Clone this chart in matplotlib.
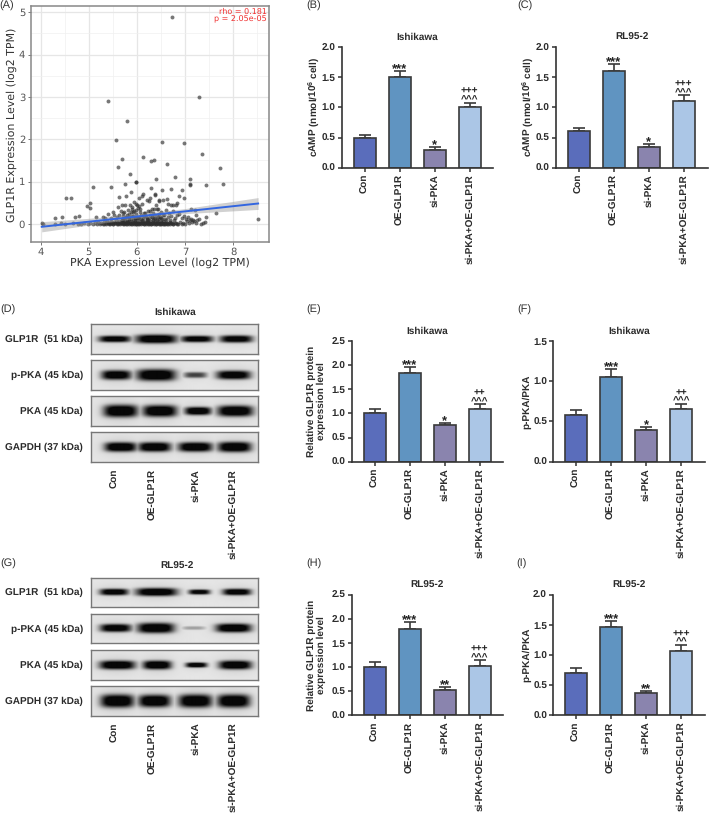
import numpy as np
from matplotlib import pyplot as plt

W, H = 709, 814
plt.rcParams['font.family'] = ['Liberation Sans', 'DejaVu Sans']
plt.rcParams['mathtext.fontset'] = 'custom'
plt.rcParams['mathtext.bf'] = 'Liberation Sans:bold'
plt.rcParams['mathtext.rm'] = 'Liberation Sans'
plt.rcParams['text.hinting'] = 'none'
plt.rcParams['text.hinting_factor'] = 1

# scatter panel A
high_x = [6.72, 7.3, 5.4, 5.8, 5.56, 6.52, 6.98, 7.36, 5.68, 6.12, 6.3, 6.36, 6.63, 5.6, 7.72, 5.86, 6.79, 6.4, 7.1,
          5.97, 5.99, 5.76, 7.1, 7.1, 7.43, 7.78, 5.47, 5.08, 6.3, 6.7, 6.52, 6.93, 5.88, 6.13, 6.38, 6.38, 5.78,
          5.63, 6.05, 6.1, 6.88, 6.98, 4.52, 4.62, 6.2, 6.28, 6.46, 6.46, 6.55, 6.62, 6.25, 5.93, 5.97, 5.03, 4.97,
          5.02, 5.75, 5.85, 5.68, 5.6, 5.9, 6.0, 6.05, 6.1, 6.4, 6.64, 6.7, 6.75, 6.82, 6.84, 6.32, 6.36, 6.42,
          7.12, 7.2, 5.4, 5.5, 4.8, 4.72, 4.3, 4.45, 7.65, 7.43, 8.52]
high_y = [4.89, 2.99, 2.9, 2.42, 1.98, 1.93, 1.9, 1.65, 1.53, 1.58, 1.48, 1.52, 1.41, 1.35, 1.32, 1.17, 1.11, 1.07, 1.05,
          0.98, 0.99, 0.93, 0.92, 0.93, 0.92, 0.94, 0.88, 0.86, 0.85, 0.82, 0.8, 0.79, 0.76, 0.7, 0.7, 0.68, 0.65,
          0.64, 0.62, 0.65, 0.65, 0.6, 0.61, 0.61, 0.57, 0.6, 0.57, 0.55, 0.57, 0.58, 0.54, 0.52, 0.47, 0.49, 0.42,
          0.38, 0.45, 0.44, 0.44, 0.4, 0.4, 0.45, 0.42, 0.47, 0.45, 0.46, 0.45, 0.45, 0.45, 0.5, 0.36, 0.34, 0.36,
          0.34, 0.32, 0.24, 0.27, 0.19, 0.15, 0.14, 0.16, 0.26, 0.16, 0.11]
mid_x = [5.15, 5.3, 5.33, 5.45, 5.52, 5.58, 5.63, 5.66, 5.7, 5.72, 5.76, 5.8, 5.82, 5.84, 5.87, 5.9, 5.92, 5.94, 5.96,
         5.99, 6.02, 6.04, 6.07, 6.09, 6.12, 6.15, 6.18, 6.21, 6.24, 6.27, 6.31, 6.34, 6.37, 6.41, 6.44, 6.47, 6.5,
         6.53, 6.57, 6.6, 6.64, 6.67, 6.71, 6.76, 6.8, 6.84, 6.88, 6.93, 6.97, 7.02, 7.06, 7.12, 7.17, 7.22, 7.3]
mid_y = [0.17, 0.16, 0.13, 0.13, 0.2, 0.15, 0.22, 0.31, 0.18, 0.25, 0.13, 0.21, 0.33, 0.16, 0.27, 0.36, 0.19, 0.3, 0.14,
         0.24, 0.38, 0.17, 0.29, 0.2, 0.13, 0.26, 0.18, 0.14, 0.3, 0.2, 0.15, 0.25, 0.13, 0.22, 0.35, 0.17, 0.28,
         0.12, 0.21, 0.33, 0.15, 0.26, 0.18, 0.3, 0.13, 0.2, 0.24, 0.14, 0.19, 0.11, 0.16, 0.12, 0.09, 0.2, 0.11]
low_x = [4.02, 4.05, 4.3, 4.42, 4.5, 4.68, 4.78, 4.84, 4.9, 4.98, 5.03, 5.08, 5.12, 5.17, 5.2, 5.23, 5.26, 5.29, 5.32,
         5.35, 5.37, 5.4, 5.42, 5.44, 5.46, 5.48, 5.5, 5.52, 5.54, 5.56, 5.58, 5.6, 5.62, 5.64, 5.66, 5.68, 5.7, 5.72,
         5.74, 5.76, 5.78, 5.8, 5.82, 5.84, 5.86, 5.88, 5.9, 5.92, 5.94, 5.96, 5.98, 6.0, 6.02, 6.04, 6.06, 6.08, 6.1,
         6.12, 6.14, 6.16, 6.18, 6.2, 6.22, 6.24, 6.26, 6.28, 6.3, 6.32, 6.34, 6.36, 6.38, 6.4, 6.42, 6.44, 6.46, 6.48,
         6.5, 6.52, 6.54, 6.56, 6.58, 6.6, 6.62, 6.65, 6.68, 6.7, 6.74, 6.78, 6.82, 6.86, 6.9, 6.93, 6.96, 7.0, 7.04,
         7.08, 7.1, 7.14, 7.18, 7.22, 7.25, 7.33, 7.37, 7.42]
low_y = [0.01, 0.0, 0.0, 0.03, 0.0, 0.02, 0.0, 0.0, 0.02, 0.0, 0.03, 0.0, 0.02, 0.0, 0.05, 0.0, 0.02, 0.0, 0.04,
         0.0, 0.07, 0.01, 0.03, 0.0, 0.06, 0.02, 0.0, 0.05, 0.01, 0.08, 0.0, 0.03, 0.06, 0.0, 0.02, 0.09, 0.01, 0.04,
         0.0, 0.07, 0.02, 0.0, 0.05, 0.1, 0.01, 0.03, 0.0, 0.08, 0.02, 0.05, 0.0, 0.1, 0.03, 0.0, 0.06, 0.01, 0.09,
         0.03, 0.0, 0.05, 0.02, 0.08, 0.0, 0.04, 0.01, 0.07, 0.0, 0.03, 0.1, 0.01, 0.05, 0.0, 0.08, 0.02, 0.11, 0.0,
         0.04, 0.01, 0.07, 0.0, 0.03, 0.09, 0.01, 0.0, 0.05, 0.02, 0.0, 0.08, 0.01, 0.0, 0.05, 0.0, 0.03, 0.0, 0.07,
         0.01, 0.1, 0.04, 0.07, 0.02, 0.09, 0.0, 0.02, 0.04]
# the thick dark band along zero and the cloud just above it
band_x = [5.31, 5.36, 5.41, 5.47, 5.51, 5.55, 5.59, 5.61, 5.65, 5.69, 5.71, 5.73, 5.75, 5.77, 5.79, 5.81, 5.83, 5.85,
          5.87, 5.89, 5.91, 5.93, 5.95, 5.97, 5.99, 6.01, 6.03, 6.05, 6.07, 6.09, 6.11, 6.13, 6.15, 6.17, 6.19, 6.21,
          6.23, 6.25, 6.27, 6.29, 6.31, 6.33, 6.35, 6.37, 6.39, 6.41, 6.43, 6.45, 6.47, 6.49, 6.51, 6.53, 6.55, 6.57,
          6.59, 6.61, 6.63, 6.66, 6.69, 6.72, 6.76, 6.8, 6.84, 5.72, 5.78, 5.84, 5.9, 5.96, 6.02, 6.08, 6.14, 6.2,
          6.26, 6.32, 6.38, 6.44, 6.5, 5.74, 5.83, 5.91, 5.98, 6.06, 6.17, 6.28, 6.35, 6.46, 6.55, 5.68, 5.79, 5.88,
          5.95, 6.03, 6.13, 6.23, 6.33, 6.43, 6.58, 6.69]
band_y = [0.0, 0.01, 0.0, 0.02, 0.0, 0.01, 0.03, 0.0, 0.01, 0.02, 0.0, 0.03, 0.01, 0.0, 0.04, 0.01, 0.0, 0.02,
          0.0, 0.04, 0.01, 0.0, 0.03, 0.01, 0.0, 0.02, 0.0, 0.03, 0.01, 0.0, 0.03, 0.01, 0.0, 0.02, 0.0, 0.04,
          0.01, 0.0, 0.02, 0.0, 0.03, 0.01, 0.0, 0.02, 0.0, 0.03, 0.01, 0.0, 0.02, 0.0, 0.03, 0.01, 0.0, 0.02,
          0.0, 0.01, 0.0, 0.02, 0.0, 0.01, 0.0, 0.02, 0.0, 0.12, 0.15, 0.11, 0.18, 0.13, 0.16, 0.12, 0.19, 0.11,
          0.14, 0.17, 0.12, 0.15, 0.13, 0.28, 0.24, 0.28, 0.33, 0.34, 0.26, 0.31, 0.22, 0.24, 0.2, 0.1, 0.07, 0.12,
          0.08, 0.13, 0.07, 0.1, 0.08, 0.06, 0.12, 0.1]
fit_x = [4.02, 8.52]
fit_y = [-0.07, 0.48]
ci_x = [4.02, 5.0, 6.0, 7.0, 8.52]
ci_lo = [-0.19, -0.03, 0.13, 0.24, 0.34]
ci_hi = [0.05, 0.13, 0.23, 0.36, 0.62]

# bar panels
groups = ['Con', 'OE-GLP1R', 'si-PKA', 'si-PKA+OE-GLP1R']
b_mean = [0.5, 1.5, 0.3, 1.0]
b_err = [0.05, 0.11, 0.04, 0.08]
b_sig = ['', '***', '*', '^^^ +++']
c_mean = [0.6, 1.6, 0.35, 1.1]
c_err = [0.06, 0.12, 0.04, 0.1]
c_sig = ['', '***', '*', '^^^ +++']
e_mean = [1.0, 1.83, 0.75, 1.1]
e_err = [0.09, 0.13, 0.05, 0.09]
e_sig = ['', '***', '*', '^^^ ++']
f_mean = [0.58, 1.05, 0.4, 0.66]
f_err = [0.06, 0.1, 0.03, 0.06]
f_sig = ['', '***', '*', '^^^ ++']
h_mean = [1.0, 1.79, 0.53, 1.03]
h_err = [0.1, 0.14, 0.05, 0.11]
h_sig = ['', '***', '**', '^^^ +++']
i_mean = [0.7, 1.46, 0.37, 1.06]
i_err = [0.08, 0.1, 0.04, 0.11]
i_sig = ['', '***', '**', '^^ +++']
bar_colors = ['#5a6dbb', '#6094c1', '#8a84ae', '#abc6e6']

# blots: (lane centre, half width, half height, darkness), measured on the strip
blot_d = [
    ('GLP1R  (51 kDa)', [(342, 45, 9, .92), (467, 58, 12, 1), (590, 45, 9, .92), (708, 46, 10, .92)]),
    ('p-PKA (45 kDa)', [(347, 42, 13, .95), (467, 55, 16, 1), (585, 32, 8, .6), (700, 48, 12, .95)]),
    ('PKA (45 kDa)', [(360, 48, 17, 1), (478, 48, 16, 1), (593, 37, 11, 1), (705, 50, 15, 1)]),
    ('GAPDH (37 kDa)', [(360, 45, 13, 1), (462, 46, 13, 1), (585, 48, 13, 1), (703, 47, 14, 1)]),
]
blot_g = [
    ('GLP1R  (51 kDa)', [(340, 40, 9, .95), (468, 58, 11, 1), (597, 30, 7, .9), (710, 40, 9, .95)]),
    ('p-PKA (45 kDa)', [(345, 44, 11, .95), (466, 52, 14, 1), (580, 32, 5, .25), (700, 50, 12, 1)]),
    ('PKA (45 kDa)', [(350, 50, 12, 1), (470, 40, 12, 1), (588, 30, 7, .95), (705, 46, 12, 1)]),
    ('GAPDH (37 kDa)', [(350, 47, 18, 1), (462, 45, 17, 1), (585, 47, 18, 1), (700, 46, 18, 1)]),
]

TXT = '#2b2b2b'
# size and baseline offset in points for each significance sign
SIG_STYLE = {'*': (9, -1.5), '^': (7.4, 0.0), '+': (7, 6.0)}

fig = plt.figure(figsize=(W / 100, H / 100), dpi=100)


def px_axes(x0, y0, x1, y1):
    return fig.add_axes([x0 / W, 1 - y1 / H, (x1 - x0) / W, (y1 - y0) / H])


def px_text(x, y, s, **kw):
    kw.setdefault('ha', 'center')
    kw.setdefault('va', 'center')
    return fig.text(x / W, 1 - y / H, s, **kw)


for lab, x, y in [('(A)', 7, 6), ('(B)', 313.5, 6), ('(C)', 524.5, 6), ('(D)', 8, 310), ('(E)', 313.5, 310),
                  ('(F)', 524.5, 310), ('(G)', 8, 564), ('(H)', 313.5, 564), ('(I)', 521.5, 564)]:
    px_text(x, y, lab, fontsize=8, color='#333333')

# panel A
ax = px_axes(30.7, 6, 268.7, 242)
ax.set_xlim(3.79, 8.74)
ax.set_ylim(-0.43, 5.15)
ax.set_xticks([4, 5, 6, 7, 8])
ax.set_yticks([0, 1, 2, 3, 4, 5])
ax.set_xticks([4.5, 5.5, 6.5, 7.5, 8.5], minor=True)
ax.set_yticks([0.5, 1.5, 2.5, 3.5, 4.5], minor=True)
ax.grid(True, which='major', color='#e6e6e6', lw=0.9)
ax.grid(True, which='minor', color='#f0f0f0', lw=0.5)
ax.set_axisbelow(True)
ax.tick_params(which='minor', length=0)
ax.tick_params(which='major', length=2.5, width=0.7, color='#777777', labelcolor='#555555', labelsize=7, pad=1.5)
ax.tick_params(labelfontfamily='DejaVu Sans')
for sp in ax.spines.values():
    sp.set_color('#888888')
    sp.set_linewidth(1.1)
ax.scatter(high_x + mid_x + low_x + band_x, high_y + mid_y + low_y + band_y, s=8, color='#2e2e2e', alpha=0.65,
           linewidths=0, zorder=2)
ax.fill_between(ci_x, ci_lo, ci_hi, color='#999999', alpha=0.45, linewidth=0, zorder=3)
ax.plot(fit_x, fit_y, color='#3366e0', lw=1.4, zorder=4)
px_text(160, 262.5, 'PKA Expression Level (log2 TPM)', family='DejaVu Sans', fontsize=7.7, color='#333333')
px_text(12, 124.5, 'GLP1R Expression Level (log2 TPM)', rotation=90, family='DejaVu Sans', fontsize=7.6, color='#333333')
px_text(267, 15.5, 'rho = 0.181\np = 2.05e-05', ha='right', family='DejaVu Sans', fontsize=5.6, color='#f03030',
        linespacing=1.0)


def bar_panel(x0, x1, y_bottom, y_top, means, errs, sigs, ymax, ticks, title, ylabel, ylab_x):
    ax = px_axes(x0, y_top, x1, y_bottom)
    # bars sit 35 px apart, first one 23 px right of the y axis
    ax.set_xlim(-23 / 35, (x1 - x0 - 23) / 35)
    ax.set_ylim(0, ymax)
    xs = np.arange(len(groups))
    ax.bar(xs, means, width=0.62, color=bar_colors, edgecolor='#3a3a3a', linewidth=1.2, zorder=2)
    ax.errorbar(xs, means, yerr=[np.zeros(len(errs)), errs], fmt='none', ecolor='#3a3a3a', elinewidth=1.2,
                capsize=4.2, capthick=1.2, zorder=1)
    for i in range(len(groups)):
        for s in sigs[i].split():
            size, off = SIG_STYLE[s[0]]
            ax.annotate(s, (xs[i], means[i] + errs[i]), xytext=(0, off), textcoords='offset points',
                        ha='center', va='baseline', fontsize=size, color='#222222', fontweight='bold')
    ax.set_xticks(xs)
    ax.set_xticklabels(groups, rotation=90, fontsize=7.3, fontweight='bold', color=TXT)
    ax.set_yticks(ticks)
    ax.set_yticklabels(['%.1f' % t for t in ticks], fontsize=7.5, fontweight='bold', color=TXT)
    ax.tick_params(axis='both', length=3, width=1.1, color='#333333', pad=1.5)
    for s in ['top', 'right']:
        ax.spines[s].set_visible(False)
    for s in ['left', 'bottom']:
        ax.spines[s].set_linewidth(1.2)
        ax.spines[s].set_color('#333333')
    mid = (y_bottom + y_top) / 2
    px_text((x0 + x1) / 2, y_top - 9.5, title, fontsize=7.2, fontweight='bold', color=TXT)
    px_text(ylab_x, mid, ylabel, rotation=90, fontsize=7, fontweight='bold', color=TXT, linespacing=1.05,
            multialignment='center')


camp = r'cAMP (nmol/10$\mathbf{^6}$ cell)'
rel = 'Relative GLP1R protein\nexpression level'
bar_panel(341.7, 493, 167.7, 47, b_mean, b_err, b_sig, 2.0, [0, .5, 1, 1.5, 2], 'Ishikawa', camp, 314)
bar_panel(555.7, 707.7, 167.7, 47, c_mean, c_err, c_sig, 2.0, [0, .5, 1, 1.5, 2], 'RL95-2', camp, 528)
bar_panel(351.7, 503.3, 461.7, 341, e_mean, e_err, e_sig, 2.5, [0, .5, 1, 1.5, 2, 2.5], 'Ishikawa', rel, 316)
bar_panel(553.3, 705, 461.7, 341, f_mean, f_err, f_sig, 1.5, [0, .5, 1, 1.5], 'Ishikawa', 'p-PKA/PKA', 527)
bar_panel(351.7, 503.3, 715.3, 594.7, h_mean, h_err, h_sig, 2.5, [0, .5, 1, 1.5, 2, 2.5], 'RL95-2', rel, 316)
bar_panel(553.3, 705, 715.3, 594.7, i_mean, i_err, i_sig, 2.0, [0, .5, 1, 1.5, 2], 'RL95-2', 'p-PKA/PKA', 527)


def strip(x0, y0, x1, y1, bands):
    # soft dark bands on a light membrane, lane positions are in 3x zoom px
    ax = px_axes(x0, y0, x1, y1)
    xx, yy = np.meshgrid(np.linspace(272, 775, 170), np.linspace(-14.7, 14.7, 30) * 3)
    dark = np.zeros_like(xx)
    for c, hw, hh, d in bands:
        core = np.exp(-np.abs((xx - c) / (hw * 1.08)) ** 4 - np.abs(yy / (hh * 1.1)) ** 3)
        halo = np.exp(-((xx - c) / (hw * 1.3)) ** 2 - (yy / (hh * 2.4)) ** 2)
        dark = np.maximum(dark, d * core * 1.1 + 0.1 * halo * d)
    img = np.clip(0.9 - 0.9 * dark, 0.03, 1)
    ax.imshow(img, cmap='gray', vmin=0, vmax=1, aspect='auto', interpolation='bilinear')
    ax.set_xticks([])
    ax.set_yticks([])
    for sp in ax.spines.values():
        sp.set_color('#777777')
        sp.set_linewidth(1.0)


def blot_panel(rows, tops, title, title_x, title_y, lab_top):
    for (name, bands), t in zip(rows, tops):
        strip(90.7, t, 258.3, t + 29.4, bands)
        px_text(83, t + 15, name, ha='right', fontsize=7.2, fontweight='bold', color=TXT)
    px_text(title_x, title_y, title, fontsize=7.2, fontweight='bold', color=TXT)
    for g, x in zip(groups, [115, 153, 196, 233]):
        px_text(x, lab_top, g, rotation=90, va='top', fontsize=7.3, fontweight='bold', color=TXT)


blot_panel(blot_d, [324.3, 360.3, 396.3, 432.3], 'Ishikawa', 175, 312, 469)
blot_panel(blot_g, [577.7, 614, 650.3, 686.3], 'RL95-2', 177, 566, 722.7)

plt.savefig('out.png', dpi=100)
